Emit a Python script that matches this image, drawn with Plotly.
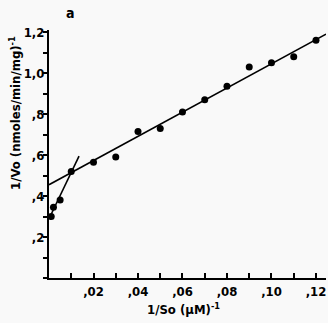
import plotly.graph_objects as go

# Data
inv_s = [0.001, 0.002, 0.005, 0.01, 0.02, 0.03, 0.04, 0.05, 0.06, 0.07, 0.08, 0.09, 0.10, 0.11, 0.12]
inv_v = [0.30, 0.345, 0.38, 0.52, 0.565, 0.59, 0.715, 0.73, 0.81, 0.87, 0.935, 1.03, 1.05, 1.08, 1.16]

line1_x = [0.0, 0.1245]
line1_y = [0.455, 1.19]
line2_x = [0.0005, 0.0135]
line2_y = [0.30, 0.595]

x_tickvals = [0.02, 0.04, 0.06, 0.08, 0.10, 0.12]
x_ticktext = [",02", ",04", ",06", ",08", ",10", ",12"]
y_tickvals = [0.2, 0.4, 0.6, 0.8, 1.0, 1.2]
y_ticktext = [",2", ",4", ",6", ",8", "1,0", "1,2"]

FONT = "DejaVu Sans Condensed, Liberation Sans Narrow, sans-serif"

fig = go.Figure()
fig.add_trace(go.Scatter(x=line1_x, y=line1_y, mode="lines",
                         line=dict(color="black", width=1.6), showlegend=False))
fig.add_trace(go.Scatter(x=line2_x, y=line2_y, mode="lines",
                         line=dict(color="black", width=1.6), showlegend=False))
fig.add_trace(go.Scatter(x=inv_s, y=inv_v, mode="markers",
                         marker=dict(color="black", size=7), showlegend=False))

L, R, T, B = 49, 2, 30, 45
W, H = 328, 323
pw = W - L - R
ph = H - T - B

def ann(text, px, py, size=13, angle=0):
    return dict(text=text, x=(px - L) / pw, y=(H - B - py) / ph, xref="paper", yref="paper",
                xanchor="center", yanchor="middle", showarrow=False, textangle=angle,
                font=dict(size=size, family=FONT, color="black", weight="bold"))

tf = dict(size=13, family=FONT, color="black", weight="bold")

fig.update_layout(
    width=W, height=H,
    margin=dict(l=L, r=R, t=T, b=B, autoexpand=False),
    paper_bgcolor="#f9f9f9", plot_bgcolor="#f9f9f9",
    font=dict(family=FONT, color="black", size=13),
    xaxis=dict(range=[0, 0.1245], showgrid=False, zeroline=False, automargin=False,
               showline=True, linecolor="black", linewidth=2,
               ticks="inside", ticklen=5, tickwidth=1.5, tickcolor="black",
               tickvals=x_tickvals, ticktext=x_ticktext,
               minor=dict(dtick=0.01, tick0=0, ticks="inside", ticklen=5, tickwidth=1.5, tickcolor="black"),
               tickfont=tf),
    yaxis=dict(range=[0, 1.21], showgrid=False, zeroline=False, automargin=False,
               showline=True, linecolor="black", linewidth=2,
               ticks="outside", ticklen=4, tickwidth=1.5, tickcolor="black",
               tickvals=y_tickvals, ticktext=y_ticktext, ticklabelstandoff=-4,
               minor=dict(dtick=0.1, tick0=0, ticks="outside", ticklen=4, tickwidth=1.5, tickcolor="black"),
               tickfont=tf),
    annotations=[
        ann("a", 70, 13, size=14),
        ann("1/So (µM)<sup>-1</sup>", 183, 309),
        ann("1/Vo (nmoles/min/mg)<sup>-1</sup>", 15, 113, angle=-90),
    ],
)

fig.write_html("out.html", config={"displayModeBar": False},
               post_script="document.body.style.margin='0';document.body.style.background='#f9f9f9';")
